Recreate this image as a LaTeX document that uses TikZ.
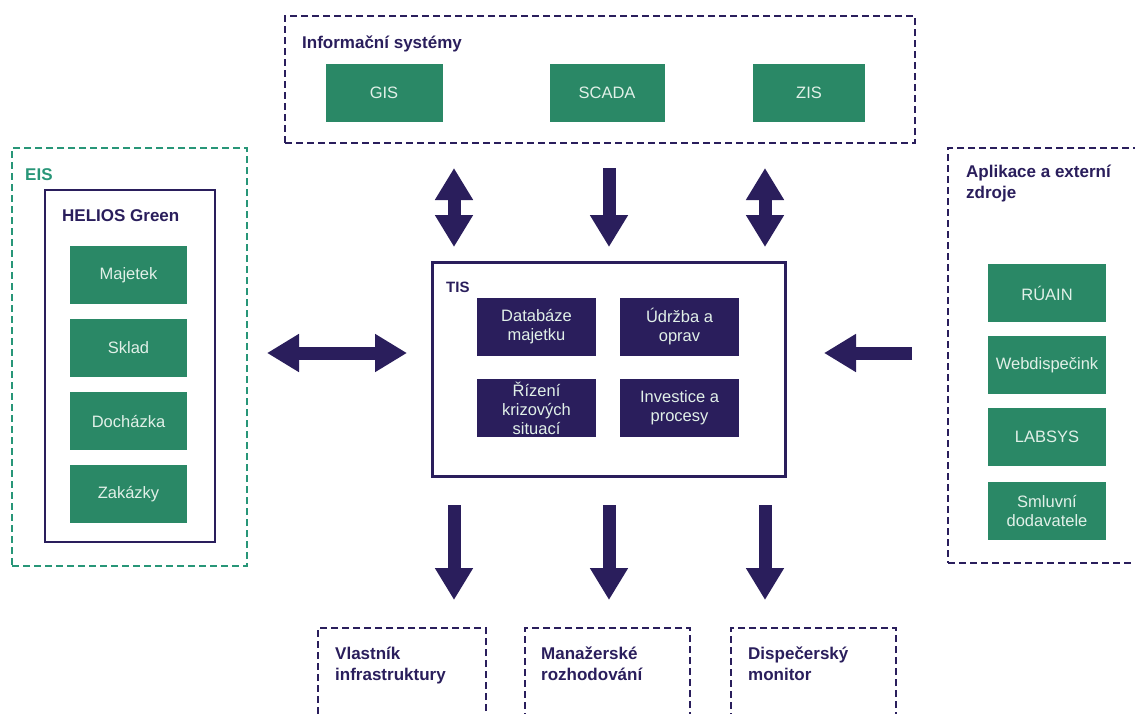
\documentclass[tikz,border=0pt]{standalone}
\usepackage{fontspec}
\setmainfont{Liberation Sans}
\usetikzlibrary{arrows.meta}
\definecolor{navy}{RGB}{42,30,92}
\definecolor{gfill}{RGB}{42,136,102}
\definecolor{gtext}{RGB}{225,240,232}
\definecolor{eisgreen}{RGB}{40,150,120}
\tikzset{
  gbox/.style={fill=gfill, text=gtext, minimum width=118pt, minimum height=58pt, inner sep=1pt,
    font=\fontsize{16.5}{19}\selectfont, align=center},
  nbox/.style={fill=navy, text=gtext, minimum width=119pt, minimum height=58pt, inner sep=1pt,
    font=\fontsize{16.5}{19}\selectfont, align=center},
  dbox/.style={draw=navy, line width=2.2pt, dash pattern=on 7pt off 4pt},
  sbox/.style={draw=navy, line width=2.2pt},
  lbl/.style={text=navy, font=\bfseries\fontsize{17}{21}\selectfont, anchor=north west, inner sep=0pt, align=left},
  arr/.style={navy, line width=13pt, -{Triangle[length=32pt,width=36pt]}},
  darr/.style={navy, line width=13pt, {Triangle[length=32pt,width=36pt]}-{Triangle[length=32pt,width=36pt]}},
}
\begin{document}
\begin{tikzpicture}[x=1pt,y=-1pt]
\useasboundingbox[fill=white] (0,0) rectangle (1135,713);

% Informační systémy
\node[dbox, minimum width=630pt, minimum height=127pt] (is) at (600,79.5) {};
\node[lbl] (islbl) at (302,36) {Informační systémy};
\node[gbox, minimum width=117pt] (gis) at (384,93) {GIS};
\node[gbox, minimum width=115pt] (scada) at (607,93) {SCADA};
\node[gbox, minimum width=112pt] (zis) at (809,93) {ZIS};

% EIS
\node[draw=eisgreen, line width=2.2pt, dash pattern=on 7pt off 4pt, minimum width=235pt, minimum height=418pt] (eis) at (129.5,357) {};
\node[lbl, text=eisgreen] (eislbl) at (25,168) {EIS};
\node[sbox, minimum width=170pt, minimum height=352pt] (helios) at (130,366) {};
\node[lbl] (helioslbl) at (62,209) {HELIOS Green};
\node[gbox, minimum width=117pt] (maj) at (128.5,275) {Majetek};
\node[gbox, minimum width=117pt] (sklad) at (128.5,348) {Sklad};
\node[gbox, minimum width=117pt] (doch) at (128.5,421) {Docházka};
\node[gbox, minimum width=117pt] (zak) at (128.5,494) {Zakázky};

% TIS
\node[draw=navy, line width=3pt, minimum width=353pt, minimum height=214pt] (tis) at (608.5,369) {};
\node[lbl, font=\bfseries\fontsize{15}{18}\selectfont] (tislbl) at (446,282) {TIS};
\node[nbox] (db) at (536.5,327) {Databáze\\majetku};
\node[nbox] (udr) at (679.5,327) {Údržba a\\oprav};
\node[nbox] (riz) at (536.5,408) {Řízení\\krizových\\situací};
\node[nbox] (inv) at (679.5,408) {Investice a\\procesy};

% Aplikace a externí zdroje
\node[dbox, minimum width=202pt, minimum height=415pt] (apl) at (1049,355.5) {};
\node[lbl] (apllbl) at (966,165) {Aplikace a externí\\zdroje};
\node[gbox] (ruain) at (1047,293) {RÚAIN};
\node[gbox] (web) at (1047,365) {Webdispečink};
\node[gbox] (lab) at (1047,437) {LABSYS};
\node[gbox] (sml) at (1047,511) {Smluvní\\dodavatele};

% bottom boxes
\node[dbox, minimum width=168pt, minimum height=102pt] (vl) at (402,679) {};
\node[lbl] (vllbl) at (335,647) {Vlastník\\infrastruktury};
\node[dbox, minimum width=165pt, minimum height=102pt] (man) at (607.5,679) {};
\node[lbl] (manlbl) at (541,647) {Manažerské\\rozhodování};
\node[dbox, minimum width=165pt, minimum height=102pt] (dis) at (813.5,679) {};
\node[lbl] (dislbl) at (748,647) {Dispečerský\\monitor};

% arrow end points
\coordinate (t1a) at (454,168); \coordinate (t1b) at (454,247);
\coordinate (t2a) at (609,168); \coordinate (t2b) at (609,247);
\coordinate (t3a) at (765,168); \coordinate (t3b) at (765,247);
\coordinate (ha) at (267,353); \coordinate (hb) at (407,353);
\coordinate (ra) at (912,353); \coordinate (rb) at (824,353);
\coordinate (b1a) at (454,505); \coordinate (b1b) at (454,600);
\coordinate (b2a) at (609,505); \coordinate (b2b) at (609,600);
\coordinate (b3a) at (765,505); \coordinate (b3b) at (765,600);

\draw[darr] (t1a) -- (t1b);
\draw[arr] (t2a) -- (t2b);
\draw[darr] (t3a) -- (t3b);
\draw[darr] (ha) -- (hb);
\draw[arr] (ra) -- (rb);
\draw[arr] (b1a) -- (b1b);
\draw[arr] (b2a) -- (b2b);
\draw[arr] (b3a) -- (b3b);
\end{tikzpicture}
\end{document}
